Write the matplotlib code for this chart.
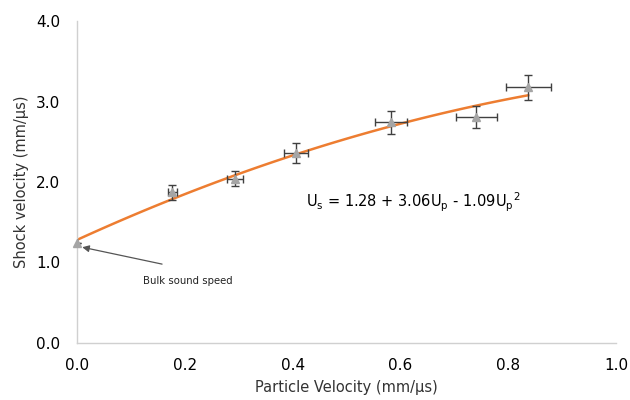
import numpy as np
import matplotlib
matplotlib.use('Agg')
import matplotlib.pyplot as plt

# measured shock data (particle velocity, shock velocity, errors)
up = [0.0, 0.177, 0.294, 0.406, 0.583, 0.741, 0.837]
us = [1.245, 1.87, 2.04, 2.36, 2.74, 2.81, 3.175]
up_err = [0.0, 0.008, 0.015, 0.022, 0.03, 0.038, 0.042]
us_err = [0.0, 0.09, 0.095, 0.12, 0.14, 0.14, 0.16]

# quadratic fit coefficients shown on the chart
c0, c1, c2 = 1.28, 3.06, -1.09
fit_max = 0.837

xticks = [0.0, 0.2, 0.4, 0.6, 0.8, 1.0]
yticks = [0.0, 1.0, 2.0, 3.0, 4.0]

plt.rcParams['font.family'] = ['DejaVu Sans']

fig = plt.figure(figsize=(6.3, 4.0), dpi=100)
ax = fig.add_axes([0.122, 0.1425, 0.856, 0.805])

xf = np.linspace(0, fit_max, 100)
ax.plot(xf, c0 + c1 * xf + c2 * xf ** 2, color='#ED7D31', lw=1.8, zorder=2)

ax.errorbar(up, us, xerr=up_err, yerr=us_err, fmt='none', ecolor='#404040',
            elinewidth=1.0, capsize=3, capthick=1.0, zorder=3)
ax.plot(up, us, linestyle='none', marker='^', ms=6, color='#A5A5A5', zorder=4, clip_on=False)

ax.text(0.425, 1.75, r'U$_\mathregular{s}$ = 1.28 + 3.06U$_\mathregular{p}$ - 1.09U$_\mathregular{p}$$^\mathregular{2}$',
        fontsize=10.5, color='black', va='center', ha='left')

# arrow pointing at the bulk sound speed point
ax.annotate('', xy=(0.01, 1.19), xytext=(0.158, 0.98),
            arrowprops=dict(arrowstyle='-|>', color='#555555', lw=0.9,
                            shrinkA=0, shrinkB=0, mutation_scale=10))
ax.text(0.123, 0.77, 'Bulk sound speed', fontsize=7.3, color='#222222',
        ha='left', va='center')

ax.set_xlim(0, 1.0)
ax.set_ylim(0, 4.0)
ax.set_xticks(xticks)
ax.set_yticks(yticks)
ax.set_xticklabels([f'{v:.1f}' for v in xticks])
ax.set_yticklabels([f'{v:.1f}' for v in yticks])
ax.tick_params(length=0, labelsize=11, colors='black')
ax.tick_params(axis='x', pad=11)
ax.tick_params(axis='y', pad=12)

for s in ['top', 'right']:
    ax.spines[s].set_visible(False)
for s in ['left', 'bottom']:
    ax.spines[s].set_color('#D0D0D0')
    ax.spines[s].set_linewidth(1.0)

ax.set_xlabel('Particle Velocity (mm/\u00b5s)', fontsize=10.5, color='#333333', labelpad=5)
ax.set_ylabel('Shock velocity (mm/\u00b5s)', fontsize=10.5, color='#333333', labelpad=5)

fig.savefig('out.png', dpi=100)
